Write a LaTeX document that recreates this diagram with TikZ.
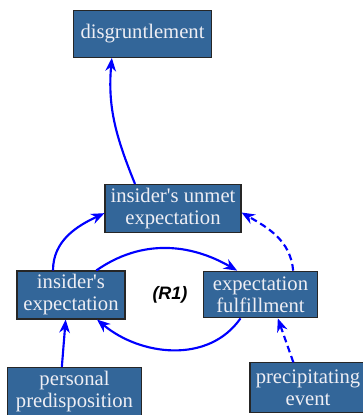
\documentclass[tikz,border=0pt]{standalone}
\usepackage{fontspec}
\setmainfont{Liberation Serif}
\setsansfont{Liberation Sans}
\usetikzlibrary{arrows.meta}
\definecolor{boxblue}{HTML}{336699}
\definecolor{boxtext}{HTML}{EEEEF4}

\begin{document}
\begin{tikzpicture}[x=0.75pt, y=-0.75pt,
    factor/.style={rectangle, draw=black!85, thick, fill=boxblue,
        text=boxtext, align=center, inner sep=1pt,
        font=\fontsize{15.5}{16.5}\selectfont},
    link/.style={draw=blue, line width=1.6pt, -{Stealth[length=10pt,width=8pt]}},
    weak/.style={link, dashed, dash pattern=on 5pt off 3pt}
]
    \useasboundingbox (0,0) rectangle (362,415);
    \node[factor, minimum width=104pt, minimum height=35pt] (disg) at (142.5,34) {disgruntlement};
    \node[factor, minimum width=102pt, minimum height=36pt] (unmet) at (173,208.5) {insider\textquotesingle s unmet\\expectation};
    \node[factor, minimum width=81pt, minimum height=36pt] (iexp) at (71,295) {insider\textquotesingle s\\expectation};
    \node[factor, minimum width=85pt, minimum height=35pt] (fulfil) at (260.5,294.5) {expectation\\fulfillment};
    \node[factor, minimum width=100pt, minimum height=36pt] (pers) at (74.5,391.5) {personal\\predisposition};
    \node[factor, minimum width=87pt, minimum height=37pt] (prec) at (308,387.5) {precipitating\\event};
    \node[font=\sffamily\bfseries\itshape\fontsize{13.5}{15}\selectfont] (loop) at (170,295) {(R1)};
    \draw[link] ([xshift=-28.5pt]unmet.north) to[out=112, in=-95] ([xshift=-23pt]disg.south);
    \draw[link] ([xshift=-13.5pt]iexp.north) to[out=90, in=205] ([yshift=-3.5pt]unmet.west);
    \draw[link] ([xshift=19pt]iexp.north) to[out=35, in=150] ([xshift=-17.5pt]fulfil.north);
    \draw[link] ([xshift=-15pt]fulfil.south) to[out=-125, in=-40] ([xshift=19.5pt]iexp.south);
    \draw[weak] ([xshift=24.5pt]fulfil.north) to[out=95, in=-30] ([yshift=-3pt]unmet.east);
    \draw[link] ([xshift=-9.5pt]pers.north) -- ([xshift=-4pt]iexp.south);
    \draw[weak] ([xshift=-11pt]prec.north) -- ([xshift=13pt]fulfil.south);
\end{tikzpicture}
\end{document}
